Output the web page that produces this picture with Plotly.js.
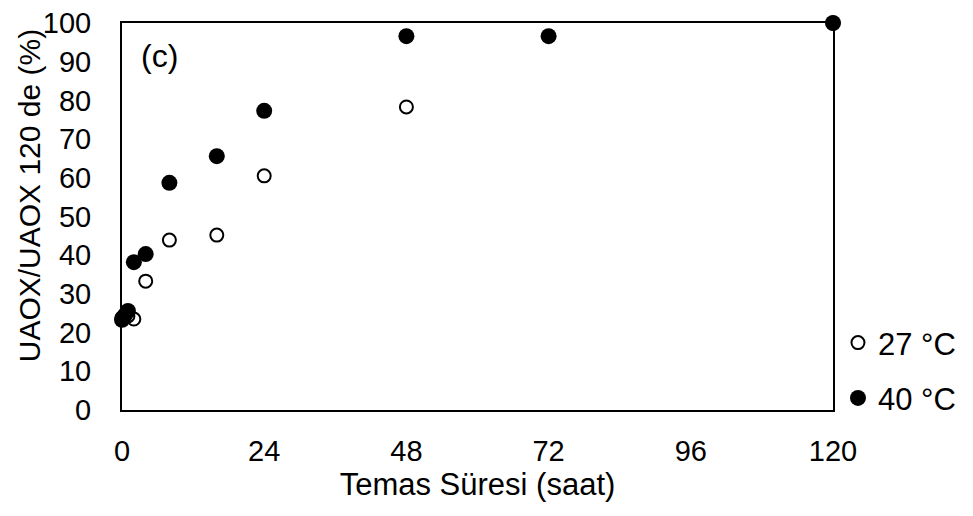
<!DOCTYPE html>
<html>
<head>
<meta charset="utf-8">
<script src="https://cdn.plot.ly/plotly-3.0.1.min.js"></script>
<style>html,body{margin:0;padding:0;background:#fff;}#chart{width:973px;height:516px;}</style>
</head>
<body>
<div id="chart"></div>
<script>
const time27 = [0, 1, 2, 4, 8, 16, 24, 48, 120];
const value27 = [23.8, 24.3, 23.5, 33.3, 43.9, 45.2, 60.5, 78.3, 100];
const time40 = [0, 0.5, 1, 2, 4, 8, 16, 24, 48, 72, 120];
const value40 = [23.3, 24.5, 25.6, 38.2, 40.3, 58.7, 65.6, 77.3, 96.6, 96.6, 100];
const xTicks = [0, 24, 48, 72, 96, 120];
const yTicks = [0, 10, 20, 30, 40, 50, 60, 70, 80, 90, 100];

const fam = 'Liberation Sans, Arial, sans-serif';
const font = {family: fam, size: 29, color: '#000'};
const titleFont = {family: fam, size: 30, color: '#000'};

const traces = [
  {x: time27, y: value27, name: '27 °C', type: 'scatter', mode: 'markers', legendgroup: 'a',
   cliponaxis: false,
   marker: {symbol: 'circle-open', size: 13, color: '#000', line: {width: 2, color: '#000'}}},
  {x: time40, y: value40, name: '40 °C', type: 'scatter', mode: 'markers', legendgroup: 'b',
   cliponaxis: false,
   marker: {symbol: 'circle', size: 16, color: '#000'}}
];

const layout = {
  width: 973, height: 516,
  margin: {l: 122, r: 138, t: 23, b: 106},
  paper_bgcolor: '#fff', plot_bgcolor: '#fff',
  font: font,
  showlegend: true,
  legend: {x: 1.007, xanchor: 'left', y: 0.243, yanchor: 'top',
           font: {family: fam, size: 31, color: '#000'},
           traceorder: 'grouped', tracegroupgap: 12, itemsizing: 'trace',
           bgcolor: 'rgba(0,0,0,0)'},
  xaxis: {range: [0, 120], tickvals: xTicks, ticktext: xTicks.map(String),
          showgrid: false, zeroline: false, showline: true, linecolor: '#000', linewidth: 2,
          mirror: true, ticks: '', ticklabelstandoff: 14, tickfont: font,
          title: {text: 'Temas Süresi (saat)', font: {family: fam, size: 31, color: '#000'}, standoff: 8}},
  yaxis: {range: [0, 100], tickvals: yTicks, ticktext: yTicks.map(String),
          showgrid: false, zeroline: false, showline: true, linecolor: '#000', linewidth: 2,
          mirror: true, ticks: '', ticklabelstandoff: 23, tickfont: font},
  annotations: [
    {text: 'UAOX/UAOX 120 de (%)', xref: 'paper', yref: 'paper', x: -0.129, y: 0.553,
     xanchor: 'center', yanchor: 'middle', textangle: -90, showarrow: false, font: titleFont},
    {text: '(c)', xref: 'paper', yref: 'paper', x: 0.024, y: 0.915,
     xanchor: 'left', yanchor: 'middle', showarrow: false,
     font: {family: fam, size: 32, color: '#000'}}]
};

Plotly.newPlot('chart', traces, layout, {displayModeBar: false, staticPlot: true});
</script>
</body>
</html>
